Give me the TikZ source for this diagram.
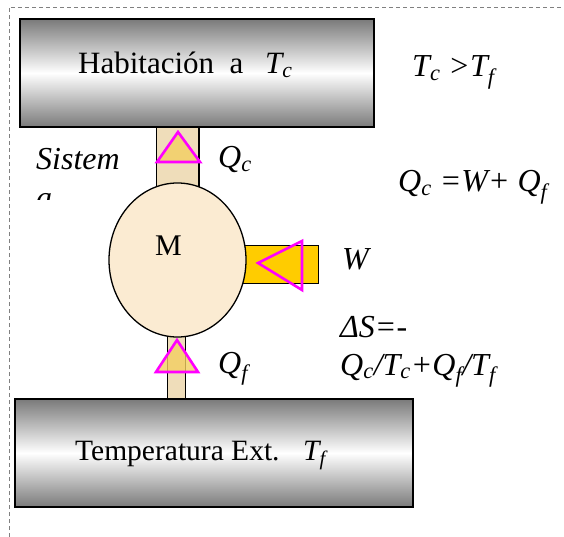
\documentclass[tikz,border=0pt]{standalone}
\usepackage{fontspec}
\setmainfont{Liberation Serif}
\usetikzlibrary{shapes.geometric,backgrounds}
\definecolor{stemtan}{HTML}{EFDDBA}
\definecolor{barGold}{HTML}{FFCC00}
\definecolor{triFill}{HTML}{F3CF60}
\definecolor{bodyCream}{HTML}{FBEBD2}
\definecolor{edgeGray}{HTML}{7A7A7A}
\definecolor{pinkLine}{HTML}{FF00FF}
\newcommand{\sbs}[1]{\textsubscript{#1}}
\begin{document}
\begin{tikzpicture}[x=1pt,y=-1pt,
  reservoir/.style={rectangle, draw=black, line width=1.5pt, inner sep=0pt,
    top color=edgeGray, bottom color=edgeGray, middle color=white},
  boxtxt/.style={inner sep=0pt, anchor=base west, font=\fontsize{31}{36}\selectfont},
  lbl/.style={inner sep=0pt, anchor=base west, font=\fontsize{32}{36}\selectfont\itshape},
  marker/.style={draw=pinkLine, line width=2.6pt, line join=miter}]
\useasboundingbox (0,0) rectangle (564,537);
% reservoirs
\node[reservoir, minimum width=354pt, minimum height=108pt] (hab) at (197,73) {};
\node[reservoir, minimum width=398pt, minimum height=108pt] (ext) at (214,453) {};
% machine
\node[ellipse, draw=black, line width=1.3pt, fill=bodyCream, inner sep=0pt,
  minimum width=137pt, minimum height=154pt] (M) at (177.5,260) {};
\node[inner sep=0pt, anchor=base west, font=\fontsize{30}{34}\selectfont] (mtxt) at (155,255) {M};
\coordinate (wend) at (319,264.5);
% connectors (behind)
\begin{scope}[on background layer]
  \draw[black, line width=44pt] (hab.south -| M.center) -- (M.center);
  \draw[stemtan, line width=41pt] (hab.south -| M.center) -- (M.center);
  \draw[black, line width=18.5pt] ([xshift=-1pt]M.center) -- ([xshift=-1pt]M.center |- ext.north);
  \draw[stemtan, line width=17pt] ([xshift=-1pt]M.center) -- ([xshift=-1pt]M.center |- ext.north);
  \draw[black, line width=38.5pt] (M.center |- wend) -- (wend);
  \draw[barGold, line width=37pt] (M.center |- wend) -- ([xshift=-0.7pt]wend);
  \draw[gray, dashed, dash pattern=on 4pt off 3pt, line width=0.7pt] (9,537) -- (9,7) -- (564,7);
\end{scope}
% flow markers
\draw[marker, fill=triFill, fill opacity=0.8] (178,132) -- (157,162) -- (200,162) -- cycle;
\draw[marker, fill=triFill, fill opacity=0.8] (177,340) -- (156,372) -- (198,372) -- cycle;
\draw[marker] (258,263) -- (302,241) -- (302,290) -- cycle;
% texts
\node[boxtxt] (habtxt) at (78,74) {Habitación\hspace{0.5em}a\hspace{0.7em}\textit{T\sbs{c}}};
\node[boxtxt, font=\fontsize{29.5}{34}\selectfont] (exttxt) at (75,460) {Temperatura Ext.\hspace{0.8em}\textit{T\sbs{f}}};
\node[lbl] (ineq) at (412,77) {T\sbs{c} >T\sbs{f}};
\node[lbl] (bal) at (398,192) {Q\sbs{c} =W+ Q\sbs{f}};
\node[lbl] (qc) at (218,168) {Q\sbs{c}};
\node[lbl] (w) at (342,269) {W};
\node[lbl] (qf) at (218,373) {Q\sbs{f}};
\node[lbl] (ds1) at (340,337) {ΔS=-};
\node[lbl] (ds2) at (340,375) {Q\sbs{c}/T\sbs{c}+Q\sbs{f}/T\sbs{f}};
\node[lbl] (sis) at (36,170) {Sistem};
\begin{scope}
  \clip (20,180) rectangle (140,200);
  \node[lbl] (sisa) at (36,208) {a};
\end{scope}
\end{tikzpicture}
\end{document}
